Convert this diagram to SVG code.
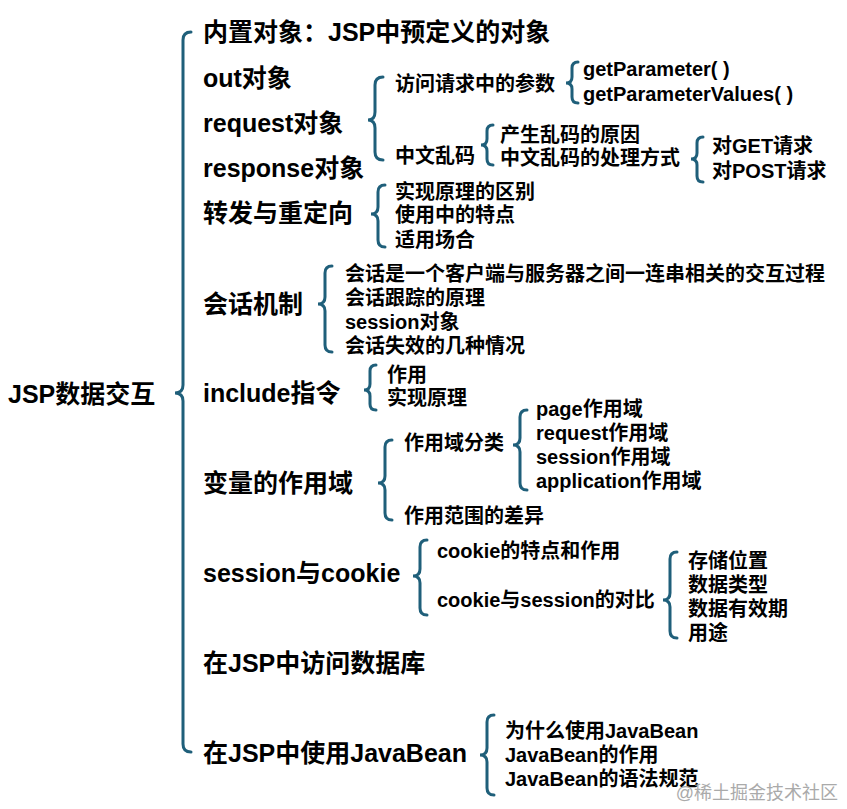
<svg xmlns="http://www.w3.org/2000/svg" width="847" height="809" viewBox="0 0 847 809">
<style>
text{font-family:"Liberation Sans","Noto Sans CJK SC",sans-serif;font-weight:bold;fill:#000}
.l0{font-size:25px}.l1{font-size:25px}.l2{font-size:20px}
.b{fill:none;stroke:#1f5f7a;stroke-width:3;stroke-linecap:round}
.wm{font-size:18px;font-weight:normal;fill:#aaa}
</style>
<rect width="847" height="809" fill="#fff"/>
<g id="connectors">
<path class="b" d="M191,32 Q183,32 183,40 L183,385 Q183,393 175,393 Q183,393 183,401 L183,744 Q183,752 191,752"/>
<path class="b" d="M383,77 Q375,77 375,85 L375,112 Q375,120 368,120 Q375,120 375,128 L375,152 Q375,160 383,160"/>
<path class="b" d="M578,62 Q572,62 572,68 L572,77 Q572,83 566,83 Q572,83 572,89 L572,97 Q572,103 578,103"/>
<path class="b" d="M493,125 Q487,125 487,131 L487,139 Q487,145 481,145 Q487,145 487,151 L487,159 Q487,165 493,165"/>
<path class="b" d="M703,137 Q697,137 697,143 L697,153 Q697,159 691,159 Q697,159 697,165 L697,176 Q697,182 703,182"/>
<path class="b" d="M385,185 Q378,185 378,192 L378,207 Q378,214 371,214 Q378,214 378,221 L378,240 Q378,247 385,247"/>
<path class="b" d="M332,266 Q325,266 325,273 L325,297 Q325,304 318,304 Q325,304 325,311 L325,345 Q325,352 332,352"/>
<path class="b" d="M376,365 Q370,365 370,371 L370,384 Q370,390 364,390 Q370,390 370,396 L370,404 Q370,410 376,410"/>
<path class="b" d="M392,440 Q385,440 385,447 L385,476 Q385,483 378,483 Q385,483 385,490 L385,513 Q385,520 392,520"/>
<path class="b" d="M527,410 Q520,410 520,417 L520,438 Q520,445 513,445 Q520,445 520,452 L520,483 Q520,490 527,490"/>
<path class="b" d="M427,540 Q420,540 420,547 L420,569 Q420,576 413,576 Q420,576 420,583 L420,608 Q420,615 427,615"/>
<path class="b" d="M677,552 Q670,552 670,559 L670,593 Q670,600 663,600 Q670,600 670,607 L670,631 Q670,638 677,638"/>
<path class="b" d="M494,715 Q487,715 487,722 L487,748 Q487,755 480,755 Q487,755 487,762 L487,788 Q487,795 494,795"/>
</g>
<g id="root"><text class="l0" x="8" y="403">JSP数据交互</text></g>
<g id="level1">
<text class="l1" x="203" y="41">内置对象：JSP中预定义的对象</text>
<text class="l1" x="203" y="87">out对象</text>
<text class="l1" x="203" y="132">request对象</text>
<text class="l1" x="203" y="177">response对象</text>
<text class="l1" x="203" y="222">转发与重定向</text>
<text class="l1" x="203" y="313">会话机制</text>
<text class="l1" x="203" y="402">include指令</text>
<text class="l1" x="203" y="492">变量的作用域</text>
<text class="l1" x="203" y="582">session与cookie</text>
<text class="l1" x="203" y="672">在JSP中访问数据库</text>
<text class="l1" x="203" y="762">在JSP中使用JavaBean</text>
</g>
<g id="request">
<text class="l2" x="395" y="91">访问请求中的参数</text>
<text class="l2" x="395" y="163">中文乱码</text>
<text class="l2" x="583" y="76">getParameter( )</text>
<text class="l2" x="583" y="101">getParameterValues( )</text>
<text class="l2" x="500" y="142">产生乱码的原因</text>
<text class="l2" x="500" y="165">中文乱码的处理方式</text>
<text class="l2" x="712" y="153">对GET请求</text>
<text class="l2" x="712" y="178">对POST请求</text>
</g>
<g id="forward">
<text class="l2" x="395" y="199">实现原理的区别</text>
<text class="l2" x="395" y="222">使用中的特点</text>
<text class="l2" x="395" y="247">适用场合</text>
</g>
<g id="session">
<text class="l2" x="345" y="281">会话是一个客户端与服务器之间一连串相关的交互过程</text>
<text class="l2" x="345" y="305">会话跟踪的原理</text>
<text class="l2" x="345" y="329">session对象</text>
<text class="l2" x="345" y="353">会话失效的几种情况</text>
</g>
<g id="include">
<text class="l2" x="387" y="382">作用</text>
<text class="l2" x="387" y="405">实现原理</text>
</g>
<g id="scope">
<text class="l2" x="404" y="450">作用域分类</text>
<text class="l2" x="404" y="523">作用范围的差异</text>
<text class="l2" x="536" y="416">page作用域</text>
<text class="l2" x="536" y="440">request作用域</text>
<text class="l2" x="536" y="464">session作用域</text>
<text class="l2" x="536" y="488">application作用域</text>
</g>
<g id="cookie">
<text class="l2" x="437" y="558">cookie的特点和作用</text>
<text class="l2" x="437" y="607">cookie与session的对比</text>
<text class="l2" x="688" y="568">存储位置</text>
<text class="l2" x="688" y="592">数据类型</text>
<text class="l2" x="688" y="616">数据有效期</text>
<text class="l2" x="688" y="640">用途</text>
</g>
<g id="javabean">
<text class="l2" x="505" y="738">为什么使用JavaBean</text>
<text class="l2" x="505" y="762">JavaBean的作用</text>
<text class="l2" x="505" y="786">JavaBean的语法规范</text>
</g>
<text class="wm" x="838" y="799" text-anchor="end">@稀土掘金技术社区</text>
</svg>
